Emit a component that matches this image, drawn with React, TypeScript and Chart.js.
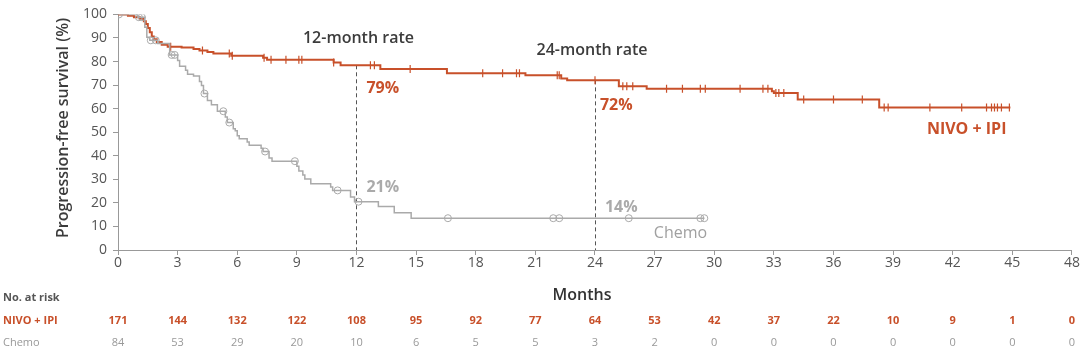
import { useEffect, useRef } from 'react';
import { Chart, registerables } from 'chart.js';
Chart.register(...registerables);

// NIVO + IPI Kaplan-Meier steps (months, PFS %)
const nivoTimes = [0, 0.5, 0.8, 1.1, 1.3, 1.4, 1.5, 1.6, 1.7, 1.8, 1.95, 2.2, 2.5, 3.2, 3.8, 4.1, 4.5, 4.8, 5.7, 7.3, 7.5, 10.85, 11.2, 13.2, 16.55, 20.5, 22.3, 22.6, 25.2, 26.6, 32.9, 33.0, 34.2, 38.3, 44.9];
const nivoSurv = [100, 99.4, 98.8, 98.2, 97.1, 95.9, 94.2, 92.4, 90.6, 89.5, 88.3, 87.1, 86.3, 85.9, 85.3, 84.7, 84.0, 83.4, 82.4, 81.6, 80.8, 79.6, 78.4, 76.8, 75.0, 74.2, 72.8, 72.0, 69.5, 68.4, 67.4, 66.6, 63.9, 60.5, 60.5];
const nivoCensor = [2.65, 4.25, 5.6, 5.75, 7.35, 7.7, 8.45, 9.1, 9.25, 10.85, 12.7, 12.9, 14.7, 18.35, 19.35, 20.05, 20.2, 22.1, 22.2, 24.0, 25.4, 25.6, 25.9, 27.6, 28.4, 29.3, 29.55, 31.3, 32.45, 32.7, 33.1, 33.25, 33.5, 34.5, 36.0, 37.45, 38.55, 38.75, 40.85, 42.45, 43.7, 43.95, 44.1, 44.25, 44.45, 44.85];

// Chemo Kaplan-Meier steps
const chemoTimes = [0, 1.0, 1.35, 1.45, 1.6, 2.0, 2.6, 3.0, 3.1, 3.4, 3.5, 3.8, 4.1, 4.2, 4.3, 4.5, 4.7, 5.0, 5.4, 5.5, 5.8, 5.9, 6.0, 6.1, 6.5, 6.6, 7.2, 7.3, 7.6, 7.75, 9.0, 9.1, 9.3, 9.4, 9.7, 10.7, 10.8, 11.7, 11.9, 13.1, 13.9, 14.75, 29.5];
const chemoSurv = [100, 98.8, 94.5, 90.3, 89.0, 87.6, 82.8, 80.4, 78.0, 76.3, 74.6, 73.9, 71.5, 69.8, 66.4, 63.5, 61.6, 58.9, 56.5, 54.1, 51.5, 50.6, 48.5, 47.2, 45.8, 44.5, 43.2, 41.8, 39.0, 37.7, 35.5, 33.5, 31.8, 30.1, 28.1, 26.7, 25.3, 22.5, 20.5, 18.5, 15.8, 13.5, 13.5];
const chemoCensor = [0.05, 1.05, 1.2, 1.65, 1.9, 2.7, 2.85, 4.35, 5.3, 5.6, 7.4, 8.9, 11.05, 12.1, 16.6, 21.9, 22.2, 25.7, 29.3, 29.5];

const xTicks = [0, 3, 6, 9, 12, 15, 18, 21, 24, 27, 30, 33, 36, 39, 42, 45, 48];
const nivoAtRisk = [171, 144, 132, 122, 108, 95, 92, 77, 64, 53, 42, 37, 22, 10, 9, 1, 0];
const chemoAtRisk = [84, 53, 29, 20, 10, 6, 5, 5, 3, 2, 0, 0, 0, 0, 0, 0, 0];

const rateMonths = [12, 24];
const rateTitles = ['12-month rate', '24-month rate'];
const nivoRates = ['79%', '72%'];
const chemoRates = ['21%', '14%'];

const ORANGE = '#c8502a';
const GRAY = '#aaaaaa';
const FONT = '"Open Sans", sans-serif';

function survAt(times: number[], surv: number[], t: number) {
  let v = surv[0];
  for (let i = 0; i < times.length; i++) {
    if (times[i] <= t) v = surv[i];
  }
  return v;
}

const overlay = {
  id: 'overlay',
  beforeDatasetsDraw(chart: any) {
    const { ctx, scales } = chart;
    const x = scales.x, y = scales.y;
    ctx.save();
    ctx.strokeStyle = '#555';
    ctx.lineWidth = 1;
    ctx.setLineDash([4, 3]);
    rateMonths.forEach((m) => {
      const px = Math.round(x.getPixelForValue(m)) + 0.5;
      ctx.beginPath();
      ctx.moveTo(px, y.getPixelForValue(survAt(nivoTimes, nivoSurv, m)));
      ctx.lineTo(px, y.getPixelForValue(0));
      ctx.stroke();
    });
    ctx.restore();
  },
  afterDraw(chart: any) {
    const { ctx, scales, chartArea } = chart;
    const x = scales.x, y = scales.y;
    ctx.save();
    ctx.textBaseline = 'middle';
    // y-axis title
    ctx.save();
    ctx.translate(63, 128);
    ctx.rotate(-Math.PI / 2);
    ctx.textAlign = 'center';
    ctx.fillStyle = '#3c3c3c';
    ctx.font = `600 16px ${FONT}`;
    ctx.fillText('Progression-free survival (%)', 0, 0);
    ctx.restore();

    // rate titles
    ctx.font = `600 16px ${FONT}`;
    ctx.fillStyle = '#3c3c3c';
    ctx.textAlign = 'center';
    ctx.fillText(rateTitles[0], x.getPixelForValue(12.1), y.getPixelForValue(90));
    ctx.fillText(rateTitles[1], x.getPixelForValue(23.85), y.getPixelForValue(84.5));

    ctx.textAlign = 'left';
    ctx.font = `bold 16px ${FONT}`;
    ctx.fillStyle = ORANGE;
    ctx.fillText(nivoRates[0], x.getPixelForValue(12.5), y.getPixelForValue(68.5));
    ctx.fillText(nivoRates[1], x.getPixelForValue(24.25), y.getPixelForValue(61.2));
    ctx.fillStyle = GRAY;
    ctx.fillText(chemoRates[0], x.getPixelForValue(12.5), y.getPixelForValue(26.7));
    ctx.fillText(chemoRates[1], x.getPixelForValue(24.5), y.getPixelForValue(18));

    ctx.textAlign = 'center';
    ctx.font = `bold 16px ${FONT}`;
    ctx.fillStyle = ORANGE;
    ctx.fillText('NIVO + IPI', x.getPixelForValue(42.7), y.getPixelForValue(51.3));
    ctx.font = `16px ${FONT}`;
    ctx.fillStyle = '#a0a0a0';
    ctx.fillText('Chemo', x.getPixelForValue(28.3), y.getPixelForValue(7));

    // x-axis title
    ctx.font = `600 16px ${FONT}`;
    ctx.fillStyle = '#333';
    ctx.fillText('Months', x.getPixelForValue(23.35), 295);

    // at-risk table
    ctx.textAlign = 'left';
    ctx.font = `bold 11px ${FONT}`;
    ctx.fillStyle = '#555';
    ctx.fillText('No. at risk', 3, 298);
    ctx.fillStyle = ORANGE;
    ctx.fillText('NIVO + IPI', 3, 321);
    ctx.font = `11px ${FONT}`;
    ctx.fillStyle = '#999';
    ctx.fillText('Chemo', 3, 343);

    ctx.textAlign = 'center';
    xTicks.forEach((t, i) => {
      const px = x.getPixelForValue(t);
      ctx.font = `bold 11px ${FONT}`;
      ctx.fillStyle = ORANGE;
      ctx.fillText(String(nivoAtRisk[i]), px, 321);
      ctx.font = `11px ${FONT}`;
      ctx.fillStyle = '#999';
      ctx.fillText(String(chemoAtRisk[i]), px, 343);
    });
    ctx.restore();
  },
};

export default function App() {
  const ref = useRef<HTMLCanvasElement>(null);
  useEffect(() => {
    if (!ref.current) return;
    const nivoPts = nivoTimes.map((t, i) => ({ x: t, y: nivoSurv[i] }));
    const chemoPts = chemoTimes.map((t, i) => ({ x: t, y: chemoSurv[i] }));
    const nivoCens = nivoCensor.map((t) => ({ x: t, y: survAt(nivoTimes, nivoSurv, t) }));
    const chemoCens = chemoCensor.map((t) => ({ x: t, y: survAt(chemoTimes, chemoSurv, t) }));
    const chart = new Chart(ref.current, {
      type: 'line',
      data: {
        datasets: [
          {
            label: 'Chemo',
            data: chemoPts,
            borderColor: GRAY,
            borderWidth: 1.5,
            stepped: 'before',
            pointRadius: 0,
          },
          {
            label: 'Chemo censored',
            data: chemoCens,
            showLine: false,
            pointStyle: 'circle',
            pointRadius: 3.5,
            pointBorderColor: GRAY,
            pointBackgroundColor: 'rgba(255,255,255,0)',
            pointBorderWidth: 1,
          },
          {
            label: 'NIVO + IPI',
            data: nivoPts,
            borderColor: ORANGE,
            borderWidth: 2,
            stepped: 'before',
            pointRadius: 0,
          },
          {
            label: 'NIVO censored',
            data: nivoCens,
            showLine: false,
            pointStyle: 'line',
            rotation: 90,
            pointRadius: 4,
            pointBorderColor: ORANGE,
            pointBorderWidth: 1.2,
          },
        ] as any,
      },
      options: {
        animation: false,
        responsive: false,
        devicePixelRatio: 1,
        layout: { padding: { left: 0, right: 7, top: 6, bottom: 0 } },
        plugins: { legend: { display: false }, tooltip: { enabled: false } },
        scales: {
          x: {
            type: 'linear',
            min: 0,
            max: 48,
            afterFit: (s: any) => { s.height = 102; },
            afterBuildTicks: (s: any) => { s.ticks = xTicks.map((v) => ({ value: v })); },
            ticks: { color: '#555', font: { family: FONT, size: 14 }, padding: 0, maxRotation: 0 },
            grid: { drawOnChartArea: false, drawTicks: true, tickLength: 5, color: '#999' },
            border: { color: '#999', width: 1 },
          },
          y: {
            min: 0,
            max: 100,
            afterFit: (s: any) => { s.width = 118; },
            ticks: { stepSize: 10, color: '#555', font: { family: FONT, size: 14 }, padding: 6 },
            grid: { drawOnChartArea: false, drawTicks: true, tickLength: 5, color: '#999' },
            border: { color: '#999', width: 1 },
          },
        },
      },
      plugins: [overlay],
    });
    return () => chart.destroy();
  }, []);
  return (
    <canvas
      ref={ref}
      width={1080}
      height={352}
      style={{ position: 'absolute', left: 0, top: 0, width: 1080, height: 352, background: '#fff' }}
    />
  );
}
